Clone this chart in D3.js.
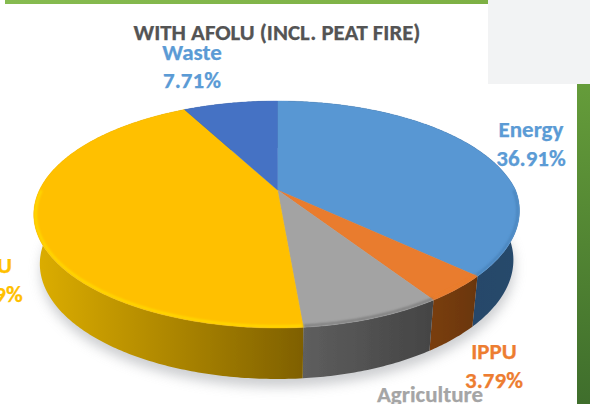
<!DOCTYPE html>
<html><head><meta charset="utf-8">
<style>html,body{margin:0;padding:0;background:#fff;overflow:hidden}svg{display:block}</style>
<script src="https://cdn.jsdelivr.net/npm/d3@7"></script></head>
<body><svg id="c" width="590" height="404"></svg>
<script>
const categories = ["Energy","IPPU","Agriculture","AFOLU","Waste"];
const shares = [36.91,3.79,7.90,43.69,7.71];
const valueLabels = ["36.91%","3.79%","","43.69%","7.71%"];
const topColors = ["#5897D3","#E97B2D","#A3A3A3","#FFC000","#4472C4"];
const rimColors = ["#4A84BC","#E97B2D","#7A7A7A","#FFDC00","#3F6ABA"];
const sideLeft = ["#1F3E5E","#7A3E10","#5E5E5E","#DDAE00","#24406F"];
const sideRight = ["#27496C","#6A360E","#444444","#7F6000","#24406F"];
const labelColors = ["#5B9BD5","#ED7D31","#A5A5A5","#FFC000","#5B9BD5"];
const title = "WITH AFOLU (INCL. PEAT FIRE)";

const W=590,H=404,svg=d3.select("#c");
const FONT="Carlito,Lato,'Open Sans',sans-serif";
const cx=277.5,cy=190,R=238,A=108.2,K=0.2159,DEPTH=47,SHRINK=0.975;
function proj(t,drop){ // t clockwise from 12 o'clock
  const X=Math.sin(t),Y=-Math.cos(t),d=1-K*Y,s=drop?SHRINK:1;
  const lean=9*Math.max(0,X)*Math.max(0,Y); // the front right of the disc sits slightly further in
  return [cx+s*R*X/d-lean, cy+A*Y/d+(drop?DEPTH+(Y+1)*2:0)];
}
function arcPts(a,b,drop){const n=Math.max(4,Math.ceil(Math.abs(b-a)*80));
  return d3.range(n+1).map(i=>proj(a+(b-a)*i/n,drop));}
const line=d3.line();
const slices=d3.pie().sort(null).value(d=>d)(shares);
const defs=svg.append("defs");
const blur=(id,s)=>defs.append("filter").attr("id",id).attr("x","-20%").attr("y","-20%").attr("width","140%").attr("height","140%")
  .append("feGaussianBlur").attr("stdDeviation",s);
blur("b8",6);blur("b1",1.2);blur("b05",0.5);

// slide decoration
const topBar=defs.append("linearGradient").attr("id","gt");
topBar.append("stop").attr("offset",0).attr("stop-color","#86BB50");
topBar.append("stop").attr("offset",1).attr("stop-color","#7DB044");
const sideBar=defs.append("linearGradient").attr("id","gs").attr("x1",0).attr("x2",0).attr("y1",0).attr("y2",1);
sideBar.append("stop").attr("offset",0).attr("stop-color","#659C3A");
sideBar.append("stop").attr("offset",1).attr("stop-color","#3F6E2C");
svg.append("rect").attr("x",5).attr("y",0).attr("width",483).attr("height",4).attr("fill","url(#gt)");
svg.append("rect").attr("x",488).attr("y",0).attr("width",102).attr("height",84).attr("fill","#F2F3F4");
svg.append("rect").attr("x",577).attr("y",84).attr("width",13).attr("height",320).attr("fill","url(#gs)");

// shadow
const full=arcPts(0,2*Math.PI,true);
svg.append("path").attr("d",line(full.map(p=>[p[0]+1,p[1]+8]))+"Z").attr("fill","#C4C6C9").attr("opacity",.85).attr("filter","url(#b8)");

const g=svg.append("g").attr("filter","url(#b05)");
// sides
slices.forEach((s,i)=>{
  const top=arcPts(s.startAngle,s.endAngle,false),bot=arcPts(s.startAngle,s.endAngle,true).reverse();
  const xs=top.concat(bot).map(p=>p[0]);
  const left=d3.min(xs),right=d3.max(xs);
  const gr=defs.append("linearGradient").attr("id","side"+i).attr("gradientUnits","userSpaceOnUse")
    .attr("x1",left).attr("x2",right).attr("y1",0).attr("y2",0);
  gr.append("stop").attr("offset",0).attr("stop-color",sideLeft[i]);
  gr.append("stop").attr("offset",1).attr("stop-color",sideRight[i]);
  g.append("path").attr("d",line(top.concat(bot))+"Z").attr("fill",`url(#side${i})`);
});
// tops
const clip=defs.append("clipPath").attr("id","topClip");
clip.append("path").attr("d",line(arcPts(0,2*Math.PI,false))+"Z");
slices.forEach((s,i)=>{
  const pts=[[cx,cy]].concat(arcPts(s.startAngle,s.endAngle,false));
  g.append("path").attr("d",line(pts)+"Z").attr("fill",topColors[i]).attr("stroke",topColors[i]).attr("stroke-width",.4);
});
// bevel along the visible rim
const rim=g.append("g").attr("clip-path","url(#topClip)");
slices.forEach((s,i)=>{
  const a=Math.max(s.startAngle,Math.PI*0.5),b=Math.min(s.endAngle,Math.PI*1.5);
  if(b<=a)return;
  const pts=arcPts(a,b,false).map(p=>{const dx=p[0]-277,dy=p[1]-215;return [277+dx*.992,215+dy*.986];});
  rim.append("path").attr("d",line(pts)).attr("fill","none").attr("stroke",rimColors[i]).attr("stroke-width",2.2).attr("filter","url(#b1)");
});

// text
svg.append("text").attr("x",277).attr("y",40).attr("text-anchor","middle").attr("font-family",FONT)
  .attr("font-weight",700).attr("font-size",22.8).attr("fill","#545454").attr("stroke","#545454").attr("stroke-width",.25).text(title);
const labelAt=[[531,137,531,166],[494,359,494,388],[430,402,430,null],[-20,273,-12,302],[192,60,192,88]];
categories.forEach((c,i)=>{
  const [x1,y1,x2,y2]=labelAt[i];
  const t=svg.append("g").attr("font-family",FONT).attr("font-weight",700).attr("font-size",23)
    .attr("text-anchor","middle").attr("fill",labelColors[i]).attr("stroke",labelColors[i]).attr("stroke-width",.25);
  t.append("text").attr("x",x1).attr("y",y1).text(c);
  if(y2!==null&&valueLabels[i])t.append("text").attr("x",x2).attr("y",y2).text(valueLabels[i]);
});
</script></body></html>
